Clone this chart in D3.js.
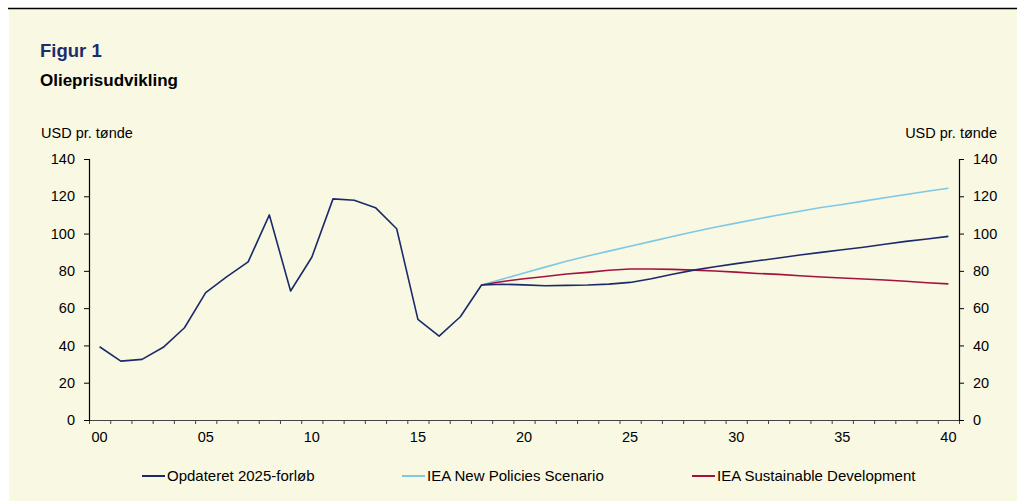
<!DOCTYPE html>
<html>
<head>
<meta charset="utf-8">
<script src="https://cdn.jsdelivr.net/npm/d3@7"></script>
<style>
  body { margin: 0; background: #fff; }
  svg { display: block; font-family: "Liberation Sans", Arial, sans-serif; }
</style>
</head>
<body>
<svg id="chart" width="1017" height="501"></svg>
<script>
// years 2000-2040, shown as two-digit labels
var years = d3.range(2000, 2041);
var yTicks = [0, 20, 40, 60, 80, 100, 120, 140];

// Opdateret 2025-forløb (2000-2040)
var updated = [39.3, 31.6, 32.5, 39.0, 49.5, 68.3, 76.9, 84.8, 110.0, 69.2,
               87.3, 118.6, 117.9, 113.9, 102.6, 54.0, 45.0, 55.4, 72.4, 72.8,
               72.5, 72.0, 72.2, 72.4, 72.9, 73.8, 75.8, 78.2, 80.4, 82.2,
               83.9, 85.4, 86.9, 88.5, 89.9, 91.3, 92.7, 94.3, 95.8, 97.1, 98.5];
// IEA scenarios (2018-2040)
var newPolicies = [72.4, 75.6, 78.8, 82.0, 85.2, 88.0, 90.6, 93.2, 95.8, 98.4,
                   101.0, 103.4, 105.6, 107.8, 110.0, 112.0, 114.0, 115.6, 117.4,
                   119.2, 121.0, 122.7, 124.3];
var sustainable = [72.4, 74.3, 75.8, 77.0, 78.3, 79.2, 80.3, 81.0, 81.0, 80.8,
                   80.4, 79.9, 79.3, 78.6, 78.1, 77.4, 76.7, 76.2, 75.6, 75.1,
                   74.4, 73.6, 73.0];

var seriesNames = ["Opdateret 2025-forløb", "IEA New Policies Scenario", "IEA Sustainable Development"];
var colors = ["#1b2a6b", "#7ec8e6", "#a3123f"];

var svg = d3.select("#chart");
var W = 1017, H = 501;

// background panel + top rule
svg.append("rect").attr("x", 9).attr("y", 8).attr("width", W - 9).attr("height", H - 8)
    .attr("fill", "#f9f8e2");
svg.append("line").attr("x1", 8).attr("x2", W).attr("y1", 8.5).attr("y2", 8.5)
    .attr("stroke", "#000").attr("stroke-width", 1.5);

svg.append("text").attr("x", 40).attr("y", 57)
    .attr("font-size", 18.5).attr("font-weight", "bold").attr("fill", "#1c2d6d")
    .text("Figur 1");
svg.append("text").attr("x", 40).attr("y", 86)
    .attr("font-size", 17).attr("font-weight", "bold").attr("fill", "#000")
    .text("Olieprisudvikling");

svg.append("text").attr("x", 41).attr("y", 138).attr("font-size", 14.5).text("USD pr. tønde");
svg.append("text").attr("x", 997).attr("y", 138).attr("font-size", 14.5)
    .attr("text-anchor", "end").text("USD pr. tønde");

var plotL = 89, plotR = 959, plotT = 159, plotB = 420;

var x = d3.scaleBand().domain(years).range([plotL, plotR]).padding(0);
var xi = d3.scaleLinear().domain([0, years.length]).range([plotL, plotR]);
var y = d3.scaleLinear().domain([0, 140]).range([plotB, plotT]);

function cx(yr) { return x(yr) + x.bandwidth() / 2; }

// x axis: line + boundary ticks
var xTickAxis = svg.append("g").attr("transform", "translate(0," + plotB + ")")
    .call(d3.axisBottom(xi).tickValues(d3.range(0, years.length + 1)).tickSize(4).tickFormat(""));
xTickAxis.select(".domain").attr("stroke", "#444");
xTickAxis.selectAll(".tick line").attr("stroke", "#444");

var xLab = svg.append("g").attr("transform", "translate(0," + plotB + ")")
    .call(d3.axisBottom(x).tickValues(years.filter(function(d) { return d % 5 === 0; }))
        .tickSize(0).tickPadding(12)
        .tickFormat(function(d) { return d3.format("02d")(d % 100); }));
xLab.select(".domain").remove();
xLab.selectAll("text").attr("font-size", 14.5).attr("fill", "#000")
    .attr("font-family", "Liberation Sans, Arial, sans-serif");

// y axes
var yl = svg.append("g").attr("transform", "translate(" + plotL + ",0)")
    .call(d3.axisLeft(y).tickValues(yTicks).tickSize(5).tickPadding(9));
var yr = svg.append("g").attr("transform", "translate(" + plotR + ",0)")
    .call(d3.axisRight(y).tickValues(yTicks).tickSize(5).tickPadding(9));
[yl, yr].forEach(function(a) {
  a.selectAll("text").attr("font-size", 14.5).attr("fill", "#000")
      .attr("font-family", "Liberation Sans, Arial, sans-serif");
  a.select(".domain").attr("stroke", "#000").attr("stroke-width", 1.2);
  a.selectAll(".tick line").attr("stroke", "#000");
});

var line = d3.line()
    .x(function(d) { return cx(d.year); })
    .y(function(d) { return y(d.value); });

function toPoints(vals, startYear) {
  return vals.map(function(v, i) { return {year: startYear + i, value: v}; });
}

var data = [toPoints(updated, 2000), toPoints(newPolicies, 2018), toPoints(sustainable, 2018)];
var drawOrder = [1, 2, 0];
drawOrder.forEach(function(k) {
  svg.append("path").datum(data[k])
      .attr("fill", "none")
      .attr("stroke", colors[k])
      .attr("stroke-width", 1.6)
      .attr("stroke-linejoin", "round")
      .attr("d", line);
});

// legend
var legendX = [142, 402, 692];
var legend = svg.append("g").selectAll("g")
    .data(seriesNames)
    .enter().append("g")
      .attr("transform", function(d, i) { return "translate(" + legendX[i] + ",476)"; });
legend.append("line").attr("x1", 0).attr("x2", 23).attr("y1", 0).attr("y2", 0)
    .attr("stroke", function(d, i) { return colors[i]; }).attr("stroke-width", 2);
legend.append("text").attr("x", 25).attr("y", 0).attr("dy", "0.35em")
    .attr("font-size", 15).text(function(d) { return d; });
</script>
</body>
</html>
